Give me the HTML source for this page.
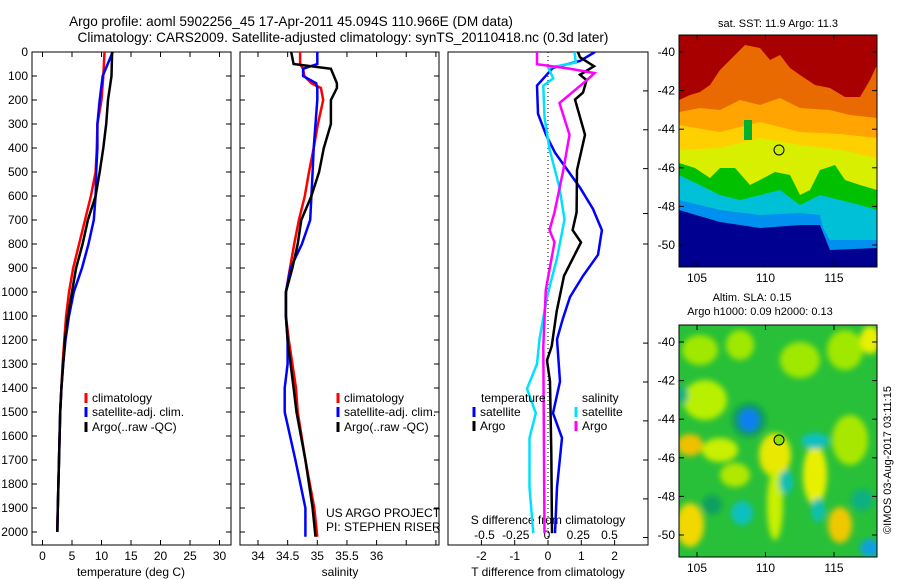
<!DOCTYPE html>
<html><head><meta charset="utf-8"><style>
body{margin:0;background:#fff;}
svg{display:block;font-family:"Liberation Sans",sans-serif;font-size:12px;}
</style></head><body>
<svg id="s" width="900" height="580" viewBox="0 0 900 580" xmlns="http://www.w3.org/2000/svg">
<defs>
<filter id="bl" x="-50%" y="-50%" width="200%" height="200%"><feGaussianBlur stdDeviation="3"/></filter>
<clipPath id="c1"><rect x="32" y="52" width="199" height="493"/></clipPath>
<clipPath id="c2"><rect x="240" y="52" width="199" height="493"/></clipPath>
<clipPath id="c3"><rect x="448" y="52" width="200" height="493"/></clipPath>
<clipPath id="cm1"><rect x="679" y="35" width="198" height="232"/></clipPath>
<clipPath id="cm2"><rect x="679" y="325" width="198" height="232"/></clipPath>
</defs>
<text x="291" y="26" text-anchor="middle" font-size="13.6">Argo profile: aoml 5902256_45 17-Apr-2011 45.094S 110.966E (DM data)</text>
<text x="343" y="42" text-anchor="middle" font-size="13.6">Climatology: CARS2009. Satellite-adjusted climatology: synTS_20110418.nc (0.3d later)</text>

<!-- SST map -->
<g clip-path="url(#cm1)">
<rect x="679" y="35" width="198" height="232" fill="#a80000"/>
<polygon fill="#e86a00" points="679,100 690,95 700,92 710,85 720,70 735,55 745,45 760,48 770,60 780,55 790,68 800,75 815,85 830,88 845,97 860,97 870,80 877,65 877,267 679,267"/>
<polygon fill="#ffa400" points="679,112 700,108 720,110 740,100 760,105 780,98 800,108 830,110 850,115 877,118 877,267 679,267"/>
<polygon fill="#ffd000" points="679,125 720,132 760,122 800,132 840,134 877,138 877,267 679,267"/>
<polygon fill="#d8f000" points="679,150 720,148 760,138 800,145 840,150 877,158 877,267 679,267"/>
<polygon fill="#00c000" points="679,163 695,168 710,178 720,168 735,168 750,185 760,180 775,172 790,175 800,195 810,190 820,170 835,165 845,180 860,185 877,190 877,267 679,267"/>
<polygon fill="#00c0d8" points="679,175 700,185 720,195 740,200 760,195 780,190 800,205 820,195 840,200 860,205 877,210 877,267 679,267"/>
<polygon fill="#0090f0" points="679,200 720,210 760,215 800,213 820,215 823,228 830,240 877,240 877,267 679,267"/>
<polygon fill="#000090" points="679,210 720,222 760,228 800,225 820,225 830,250 877,248 877,267 679,267"/>
<rect x="744" y="120" width="8" height="20" fill="#00b030"/>
<circle cx="779" cy="150" r="5" fill="#c8f000" stroke="#000"/>
</g>
<rect x="679" y="35" width="198" height="232" fill="none" stroke="#000"/>
<text x="778" y="27" text-anchor="middle" font-size="11">sat. SST: 11.9 Argo: 11.3</text>

<!-- SLA map -->
<g clip-path="url(#cm2)">
<rect x="679" y="325" width="198" height="232" fill="#28c038"/>
<g filter="url(#bl)">
<ellipse cx="700" cy="350" rx="18" ry="15" fill="#a0e800"/>
<ellipse cx="740" cy="345" rx="14" ry="15" fill="#a0e800"/>
<ellipse cx="800" cy="360" rx="20" ry="18" fill="#a0e800"/>
<ellipse cx="845" cy="350" rx="18" ry="20" fill="#a0e800"/>
<ellipse cx="870" cy="340" rx="10" ry="14" fill="#e8f000"/>
<ellipse cx="705" cy="400" rx="22" ry="20" fill="#b8f000"/>
<ellipse cx="690" cy="445" rx="13" ry="11" fill="#f0c000"/>
<ellipse cx="720" cy="450" rx="18" ry="12" fill="#c8f000"/>
<ellipse cx="775" cy="455" rx="16" ry="22" fill="#e8e800"/>
<ellipse cx="775" cy="505" rx="8" ry="35" fill="#c8f000"/>
<ellipse cx="815" cy="475" rx="12" ry="30" fill="#e8f000"/>
<ellipse cx="850" cy="440" rx="18" ry="25" fill="#a8e800"/>
<ellipse cx="840" cy="525" rx="12" ry="18" fill="#f0c800"/>
<ellipse cx="690" cy="525" rx="14" ry="22" fill="#f0d800"/>
<ellipse cx="735" cy="475" rx="15" ry="12" fill="#b0e800"/>
<ellipse cx="749" cy="420" rx="17" ry="17" fill="#109860"/>
<ellipse cx="749" cy="420" rx="10" ry="11" fill="#1080f0"/>
<ellipse cx="815" cy="441" rx="14" ry="8" fill="#10c0c0"/>
<ellipse cx="786" cy="482" rx="7" ry="12" fill="#10c0b0"/>
<ellipse cx="712" cy="505" rx="10" ry="10" fill="#10a060"/>
<ellipse cx="742" cy="513" rx="11" ry="12" fill="#10c0c0"/>
<ellipse cx="818" cy="510" rx="7" ry="12" fill="#10c0b0"/>
<ellipse cx="862" cy="500" rx="11" ry="11" fill="#10b080"/>
<ellipse cx="870" cy="548" rx="10" ry="9" fill="#10a0e0"/>
<ellipse cx="682" cy="395" rx="6" ry="9" fill="#10b080"/>
</g>
<circle cx="779" cy="440" r="5" fill="#90e000" stroke="#000"/>
</g>
<rect x="679" y="325" width="198" height="232" fill="none" stroke="#000"/>
<text x="752" y="301" text-anchor="middle" font-size="11">Altim. SLA: 0.15</text>
<text x="760" y="315" text-anchor="middle" font-size="11">Argo h1000: 0.09 h2000: 0.13</text>
<text transform="translate(891,460) rotate(-90)" text-anchor="middle" font-size="11">©IMOS 03-Aug-2017 03:11:15</text>

<g id="g"></g>
</svg>
<script>
// ---- data ----
var depthTicks=[0,100,200,300,400,500,600,700,800,900,1000,1100,1200,1300,1400,1500,1600,1700,1800,1900,2000];
var tempTicks=[0,5,10,15,20,25,30];
var salTicks=[34,34.5,35,35.5,36];
var tdTicks=[-2,-1,0,1,2];
var sdTicks=[-0.5,-0.25,0,0.25,0.5];
var sdTickLabels=["-0.5","-0.25","0","0.25","0.5"];
var lonTicks=[105,110,115];
var latTicks=[-40,-42,-44,-46,-48,-50];

var tDepth=[0,100,200,300,400,500,600,700,800,900,1000,1100,1200,1300,1400,1500,1600,1700,1800,1900,2000];
var tClim=[10.5,10.3,10.0,9.3,9.2,9.0,8.2,7.2,6.2,5.2,4.5,4.0,3.7,3.4,3.2,3.0,2.9,2.8,2.7,2.6,2.5];
var tSat=[11.9,10.2,9.7,9.3,9.3,9.1,9.0,8.7,7.8,6.7,5.3,4.5,3.9,3.5,3.2,3.0,2.9,2.8,2.7,2.6,2.5];
var tArgo=[11.8,11.7,11.1,10.8,10.3,9.7,9.0,7.7,6.8,5.7,5.0,4.3,3.8,3.5,3.2,3.0,2.9,2.8,2.7,2.6,2.5];

var sDepth=[0,50,70,100,130,150,200,300,400,500,600,700,800,900,1000,1100,1200,1300,1400,1500,1700,1900,2020];
var sClim=[34.71,34.71,34.76,34.78,34.9,35.06,35.1,35.01,34.94,34.86,34.79,34.69,34.61,34.54,34.47,34.47,34.52,34.58,34.64,34.67,34.8,34.95,35.0];
var sSat=[35.0,35.0,34.76,34.76,34.98,35.0,35.0,34.97,34.94,34.92,34.9,34.88,34.74,34.55,34.47,34.47,34.5,34.5,34.45,34.45,34.63,34.8,34.8];
var sArgo=[34.56,34.6,35.23,35.28,35.33,35.33,35.23,35.23,35.11,35.03,34.9,34.73,34.67,34.58,34.47,34.47,34.5,34.55,34.6,34.65,34.8,34.92,34.97];

var dBlueD=[0,37,66,140,257,345,419,565,654,742,845,933,1021,1109,1197,1373,1505,1608,1814,2005];
var dBlue=[1.41,0.96,0.15,-0.33,-0.3,-0.06,0.21,0.96,1.35,1.62,1.5,1.05,0.66,0.45,0.27,0.36,0.15,0.42,0.27,0.21];
var dBlackD=[0,22,59,95,117,169,198,345,492,668,742,793,933,1080,1226,1285,1373,1667,2005];
var dBlack=[0.9,0.96,1.38,0.96,1.16,1.05,0.81,1.11,0.87,0.86,0.74,0.99,0.48,0.26,0.11,-0.03,0.06,0.1,0.12];
var dCyanD=[0,44,66,110,140,272,404,565,698,859,1021,1197,1300,1403,1505,1608,1814,2005];
var dCyan=[0.22,0.23,0.01,0.05,-0.03,-0.02,0.02,0.1,0.14,0.08,0,-0.06,-0.08,-0.16,-0.09,-0.14,-0.14,-0.11];
var dMagD=[0,51,69,88,117,213,345,492,668,742,793,991,1226,2005];
var dMag=[-0.08,-0.08,0.18,0.38,0.32,0.1,0.18,0.13,0.06,0.02,0.06,-0.01,-0.03,-0.02];
var panel3RightTicks=[0,162,324,486,673,800,1213,1375,1537,1700,1862,2023];

// ---- scales ----
function yD(d){return 52+d*0.24;}
function xT(v){return 42.5+v*5.9;}
function xS(v){return 258+(v-34)*59.3;}
function xTd(v){return 548+v*33.3;}
function xSd(v){return 547+v*125;}
function lonX(v){return 697+(v-105)*13.7;}
function latY1(v){return 52+(-40-v)*19.3;}
function latY2(v){return 342+(-40-v)*19.3;}

var NS='http://www.w3.org/2000/svg';
var G=document.getElementById('g');
function el(t,a,p){var e=document.createElementNS(NS,t);for(var k in a)e.setAttribute(k,a[k]);(p||G).appendChild(e);return e;}
function txt(x,y,s,anchor,name,size){var e=el('text',{x:x,y:y,'text-anchor':anchor||'start'});if(size)e.setAttribute('font-size',size);e.textContent=s;


return e;}
function line(xs,ds,fx,color,clip,name){var pts=[];for(var i=0;i<xs.length;i++)pts.push(fx(xs[i]).toFixed(1)+','+yD(ds[i]).toFixed(1));
var p=el('polyline',{points:pts.join(' '),fill:'none',stroke:color,'stroke-width':2.5,'clip-path':'url(#'+clip+')'});


}

var panels=[[32,231],[240,439],[448,648]];
panels.forEach(function(p,i){
 var r=el('rect',{x:p[0],y:52,width:p[1]-p[0],height:493,fill:'none',stroke:'#000'});
 
 
});
depthTicks.forEach(function(d){
 txt(28,yD(d)+4,String(d),'end','depth-tick-label');
 [[32,37],[226,231],[240,245],[434,439]].forEach(function(s){el('line',{x1:s[0],x2:s[1],y1:yD(d),y2:yD(d),stroke:'#000'});});
});
panel3RightTicks.forEach(function(d){el('line',{x1:643,x2:648,y1:yD(d),y2:yD(d),stroke:'#000'});});
tempTicks.forEach(function(v){
 var x=xT(v);el('line',{x1:x,x2:x,y1:52,y2:57,stroke:'#000'});el('line',{x1:x,x2:x,y1:540,y2:545,stroke:'#000'});
 txt(x,560,String(v),'middle','temperature-tick-label');
});
txt(131,576,'temperature (deg C)','middle','temperature-axis-title');
[34,34.5,35,35.5,36,36.5,37].forEach(function(v){var x=xS(v);el('line',{x1:x,x2:x,y1:52,y2:57,stroke:'#000'});el('line',{x1:x,x2:x,y1:540,y2:545,stroke:'#000'});});
salTicks.forEach(function(v){txt(xS(v),560,String(v),'middle','salinity-tick-label');});
txt(340,576,'salinity','middle','salinity-axis-title');
tdTicks.forEach(function(v){var x=xTd(v);el('line',{x1:x,x2:x,y1:540,y2:545,stroke:'#000'});txt(x,560,String(v),'middle','t-difference-tick-label');});
sdTicks.forEach(function(v,i){txt(xSd(v),539,sdTickLabels[i],'middle','s-difference-tick-label');});
txt(548,576,'T difference from climatology','middle','t-difference-axis-title');
txt(548,524,'S difference from climatology','middle','s-difference-axis-title');
el('line',{x1:548,x2:548,y1:52,y2:545,stroke:'#000','stroke-dasharray':'1,3'});

line(tClim,tDepth,xT,'#ff0000','c1','temp-climatology-line');
line(tSat,tDepth,xT,'#0000ff','c1','temp-satellite-line');
line(tArgo,tDepth,xT,'#000000','c1','temp-argo-line');
line(sClim,sDepth,xS,'#ff0000','c2','sal-climatology-line');
line(sSat,sDepth,xS,'#0000ff','c2','sal-satellite-line');
line(sArgo,sDepth,xS,'#000000','c2','sal-argo-line');
line(dBlue,dBlueD,xTd,'#0000ff','c3','t-diff-satellite-line');
line(dBlack,dBlackD,xTd,'#000000','c3','t-diff-argo-line');
line(dCyan,dCyanD,xSd,'#00e0ff','c3','s-diff-satellite-line');
line(dMag,dMagD,xSd,'#ff00ff','c3','s-diff-argo-line');

function leg(x,y,c,s,name){el('line',{x1:x,x2:x,y1:y-9,y2:y+1,stroke:c,'stroke-width':3});txt(x+6,y,s,'start',name);}
leg(86,402,'#ff0000','climatology','legend-climatology');
leg(86,416,'#0000ff','satellite-adj. clim.','legend-satellite');
leg(86,431,'#000000','Argo(..raw -QC)','legend-argo');
leg(338,402,'#ff0000','climatology','legend-climatology-2');
leg(338,416,'#0000ff','satellite-adj. clim.','legend-satellite-2');
leg(338,431,'#000000','Argo(..raw -QC)','legend-argo-2');
txt(481,402,'temperature','start','legend-temperature-header');
txt(582,402,'salinity','start','legend-salinity-header');
leg(474,416,'#0000ff','satellite','legend-t-satellite');
leg(474,430,'#000000','Argo','legend-t-argo');
leg(576,416,'#00e0ff','satellite','legend-s-satellite');
leg(576,430,'#ff00ff','Argo','legend-s-argo');
txt(326,517,'US ARGO PROJECT','start','project-label');
txt(326,531,'PI: STEPHEN RISER','start','pi-label');

lonTicks.forEach(function(v){var x=lonX(v);
 [[35,40],[262,267],[325,330],[552,557]].forEach(function(s){el('line',{x1:x,x2:x,y1:s[0],y2:s[1],stroke:'#000'});});
 txt(x,282,String(v),'middle','sst-lon-tick-label');txt(x,572,String(v),'middle','sla-lon-tick-label');});
latTicks.forEach(function(v){
 var y1=latY1(v),y2=latY2(v);
 [[y1],[y2]].forEach(function(y){el('line',{x1:679,x2:684,y1:y[0],y2:y[0],stroke:'#000'});el('line',{x1:872,x2:877,y1:y[0],y2:y[0],stroke:'#000'});});
 txt(675,y1+4,String(v),'end','sst-lat-tick-label');txt(675,y2+4,String(v),'end','sla-lat-tick-label');});
</script>
</body></html>
